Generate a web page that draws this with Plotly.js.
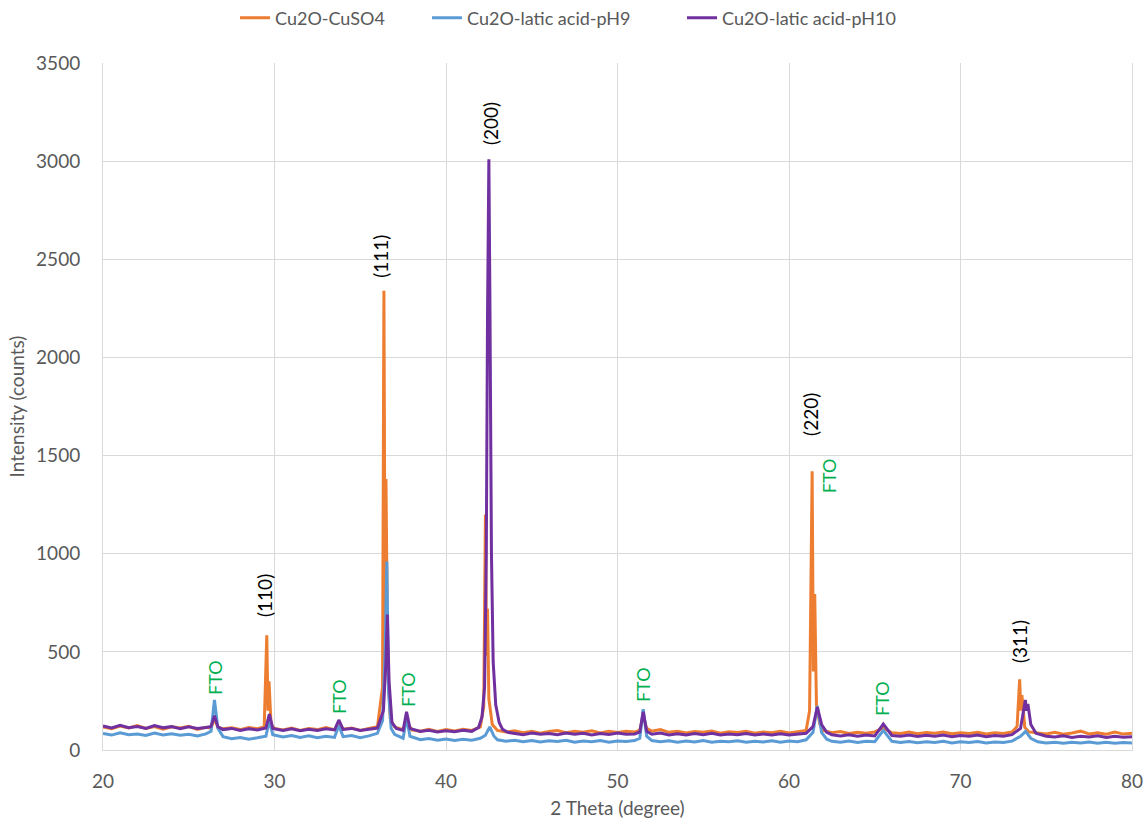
<!DOCTYPE html>
<html>
<head>
<meta charset="utf-8">
<script src="https://cdn.plot.ly/plotly-3.0.1.min.js"></script>
<style>html,body{margin:0;padding:0;background:#fff;}#chart{width:1146px;height:825px;}</style>
</head>
<body>
<div id="chart"></div>
<script>
const seriesNames = ["Cu2O-CuSO4", "Cu2O-latic acid-pH9", "Cu2O-latic acid-pH10"];

const cuso4X = [20, 20.5, 21, 21.5, 22, 22.5, 23, 23.5, 24, 24.5,
 25, 25.5, 26, 26.3, 26.5, 26.7, 27, 27.5, 28, 28.5,
 29, 29.4, 29.55, 29.62, 29.68, 29.8, 30, 30.5, 31, 31.5,
 32, 32.5, 33, 33.5, 33.75, 34, 34.5, 35, 35.5, 36,
 36.3, 36.38, 36.45, 36.5, 36.6, 36.75, 37, 37.5, 37.7, 38,
 38.5, 39, 39.5, 40, 40.5, 41, 41.5, 42, 42.2, 42.3,
 42.36, 42.42, 42.5, 42.7, 43, 43.5, 44, 44.5, 45, 45.5,
 46, 46.5, 47, 47.5, 48, 48.5, 49, 49.5, 50, 50.5,
 51, 51.3, 51.5, 51.7, 52, 52.5, 53, 53.5, 54, 54.5,
 55, 55.5, 56, 56.5, 57, 57.5, 58, 58.5, 59, 59.5,
 60, 60.5, 61, 61.2, 61.35, 61.42, 61.5, 61.6, 61.8, 62,
 62.5, 63, 63.5, 64, 64.5, 65, 65.5, 66, 66.5, 67,
 67.5, 68, 68.5, 69, 69.5, 70, 70.5, 71, 71.5, 72,
 72.5, 73, 73.3, 73.45, 73.52, 73.58, 73.75, 74, 74.5, 75,
 75.5, 76, 76.5, 77, 77.5, 78, 78.5, 79, 79.5, 80];
const cuso4Y = [118, 108, 122, 112, 125, 110, 120, 106, 118, 112,
 121, 105, 116, 112, 160, 115, 108, 113, 104, 115,
 108, 118, 585, 200, 350, 128, 110, 102, 112, 100,
 110, 104, 114, 103, 135, 106, 112, 100, 110, 118,
 320, 2340, 620, 1380, 420, 160, 118, 104, 150, 102,
 96, 106, 95, 104, 97, 106, 100, 118, 220, 1200,
 480, 720, 260, 130, 100, 92, 98, 88, 96, 86,
 94, 99, 88, 95, 90, 98, 87, 96, 89, 95,
 92, 100, 175, 110, 96, 104, 90, 96, 87, 94,
 90, 97, 86, 93, 89, 95, 86, 92, 88, 95,
 87, 93, 100, 200, 1420, 400, 795, 230, 130, 100,
 88, 94, 84, 90, 86, 92, 112, 88, 84, 91,
 83, 89, 85, 92, 83, 88, 84, 90, 82, 88,
 84, 92, 120, 360, 200, 280, 115, 92, 86, 82,
 90, 80, 87, 96, 82, 88, 80, 92, 81, 85];

const ph9X = [20, 20.5, 21, 21.5, 22, 22.5, 23, 23.5, 24, 24.5,
 25, 25.5, 26, 26.3, 26.5, 26.7, 27, 27.5, 28, 28.5,
 29, 29.5, 29.7, 29.9, 30.5, 31, 31.5, 32, 32.5, 33,
 33.5, 33.75, 34, 34.5, 35, 35.5, 36, 36.3, 36.45, 36.55,
 36.65, 36.8, 37, 37.5, 37.7, 37.9, 38.5, 39, 39.5, 40,
 40.5, 41, 41.5, 42, 42.3, 42.55, 42.8, 43, 43.5, 44,
 44.5, 45, 45.5, 46, 46.5, 47, 47.5, 48, 48.5, 49,
 49.5, 50, 50.5, 51, 51.3, 51.5, 51.7, 52, 52.5, 53,
 53.5, 54, 54.5, 55, 55.5, 56, 56.5, 57, 57.5, 58,
 58.5, 59, 59.5, 60, 60.5, 61, 61.4, 61.65, 61.9, 62.2,
 62.5, 63, 63.5, 64, 64.5, 65, 65.5, 66, 66.5, 67,
 67.5, 68, 68.5, 69, 69.5, 70, 70.5, 71, 71.5, 72,
 72.5, 73, 73.5, 73.8, 74.1, 74.5, 75, 75.5, 76, 76.5,
 77, 77.5, 78, 78.5, 79, 79.5, 80];
const ph9Y = [84, 76, 88, 78, 82, 74, 86, 77, 83, 75,
 80, 72, 82, 95, 255, 110, 68, 58, 64, 55,
 62, 70, 150, 78, 66, 74, 64, 72, 62, 70,
 64, 125, 68, 74, 63, 72, 85, 150, 500, 960,
 300, 110, 80, 60, 165, 70, 52, 58, 50, 56,
 49, 55, 50, 60, 75, 118, 70, 52, 45, 50,
 42, 48, 41, 47, 43, 50, 40, 46, 42, 48,
 40, 46, 43, 48, 60, 208, 70, 48, 42, 47,
 40, 46, 41, 48, 40, 45, 42, 47, 39, 45,
 41, 47, 40, 46, 42, 52, 90, 224, 90, 55,
 44, 40, 46, 38, 44, 42, 100, 44, 38, 43,
 37, 42, 38, 44, 36, 42, 38, 43, 36, 41,
 38, 45, 70, 95, 60, 42, 36, 40, 34, 39,
 36, 41, 34, 40, 35, 38, 36];

const ph10X = [20, 20.5, 21, 21.5, 22, 22.5, 23, 23.5, 24, 24.5,
 25, 25.5, 26, 26.3, 26.5, 26.7, 27, 27.5, 28, 28.5,
 29, 29.5, 29.7, 29.9, 30.5, 31, 31.5, 32, 32.5, 33,
 33.5, 33.75, 34, 34.5, 35, 35.5, 36, 36.35, 36.5, 36.58,
 36.68, 36.85, 37.1, 37.5, 37.7, 37.9, 38.5, 39, 39.5, 40,
 40.5, 41, 41.5, 41.9, 42.1, 42.25, 42.35, 42.42, 42.5, 42.56,
 42.65, 42.75, 42.9, 43.1, 43.3, 43.6, 44, 44.5, 45, 45.5,
 46, 46.5, 47, 47.5, 48, 48.5, 49, 49.5, 50, 50.5,
 51, 51.3, 51.5, 51.7, 52, 52.5, 53, 53.5, 54, 54.5,
 55, 55.5, 56, 56.5, 57, 57.5, 58, 58.5, 59, 59.5,
 60, 60.5, 61, 61.4, 61.65, 61.9, 62.2, 62.5, 63, 63.5,
 64, 64.5, 65, 65.5, 66, 66.5, 67, 67.5, 68, 68.5,
 69, 69.5, 70, 70.5, 71, 71.5, 72, 72.5, 73, 73.5,
 73.78, 73.85, 73.93, 74.1, 74.4, 75, 75.5, 76, 76.5, 77,
 77.5, 78, 78.5, 79, 79.5, 80];
const ph10Y = [122, 112, 126, 114, 120, 110, 124, 113, 119, 108,
 118, 110, 115, 120, 175, 118, 104, 110, 100, 108,
 102, 112, 183, 110, 100, 108, 98, 106, 100, 108,
 102, 153, 105, 110, 100, 106, 112, 200, 450, 690,
 350, 140, 110, 100, 195, 110, 94, 100, 92, 98,
 93, 100, 95, 115, 170, 320, 1000, 2200, 3010, 2300,
 1000, 450, 230, 140, 105, 90, 84, 78, 86, 80,
 84, 78, 86, 80, 85, 77, 84, 79, 86, 80,
 82, 92, 195, 95, 80, 86, 77, 83, 76, 84,
 78, 85, 76, 82, 78, 84, 76, 82, 77, 83,
 76, 82, 85, 120, 219, 130, 90, 78, 72, 78,
 70, 76, 72, 132, 74, 70, 76, 69, 75, 70,
 76, 68, 74, 70, 76, 68, 74, 70, 78, 110,
 255, 200, 235, 130, 85, 70, 66, 72, 64, 70,
 66, 72, 64, 70, 65, 68];

// Peak labels (Miller indices) and FTO substrate labels
const hklLabels = ["(110)", "(111)", "(200)", "(220)", "(311)"];
const hklX = [29.45, 36.2, 42.57, 61.28, 73.41];
const hklY = [785, 2517, 3189, 1712, 555];
const ftoX = [26.53, 33.76, 37.78, 51.49, 62.33, 65.42];
const ftoY = [372, 275, 311, 331, 1400, 265];

const colors = ["#ED7D31", "#5B9BD5", "#7030A0"];
const FONT = "Lato, 'Open Sans', sans-serif";
const legendIds = ["legend", "legend2", "legend3"];
const legendLeft = [0.1283, 0.3149, 0.5627];

const traces = [
  {x: cuso4X, y: cuso4Y, name: seriesNames[0]},
  {x: ph9X, y: ph9Y, name: seriesNames[1]},
  {x: ph10X, y: ph10Y, name: seriesNames[2]}
].map((t, i) => Object.assign(t, {
  type: "scatter", mode: "lines", legend: legendIds[i],
  line: {color: colors[i], width: 3}
}));

const annotations = [];
hklLabels.forEach((t, i) => annotations.push({
  x: hklX[i], y: hklY[i], text: t, showarrow: false, textangle: -90,
  font: {family: FONT, size: 19, color: "#000000"}
}));
ftoX.forEach((x, i) => annotations.push({
  x: x, y: ftoY[i], text: "FTO", showarrow: false, textangle: -90,
  font: {family: FONT, size: 18, color: "#00B050"}
}));

const layout = {
  width: 1146, height: 825,
  margin: {l: 103, r: 14, t: 63, b: 75},
  paper_bgcolor: "#ffffff", plot_bgcolor: "#ffffff",
  font: {family: FONT, color: "#595959", size: 19},
  showlegend: true,
  xaxis: {
    range: [20, 80], dtick: 10, tick0: 20,
    showgrid: true, gridcolor: "#d9d9d9", gridwidth: 1,
    showline: true, linecolor: "#d9d9d9", linewidth: 1,
    zeroline: false, ticks: "", ticklabelstandoff: 14,
    tickfont: {family: FONT, size: 19, color: "#595959"},
    title: {text: "2 Theta (degree)", font: {family: FONT, size: 19, color: "#595959"}, standoff: 10}
  },
  yaxis: {
    range: [0, 3500], dtick: 500, tick0: 0,
    showgrid: true, gridcolor: "#d9d9d9", gridwidth: 1,
    showline: true, mirror: true, linecolor: "#d9d9d9", linewidth: 1,
    zeroline: false, ticks: "", ticklabelstandoff: 18,
    tickfont: {family: FONT, size: 19, color: "#595959"},
    title: {text: "Intensity (counts)", font: {family: FONT, size: 19, color: "#595959"}, standoff: 6}
  },
  annotations: annotations
};
legendIds.forEach((id, i) => {
  layout[id] = {
    orientation: "h", x: legendLeft[i], xanchor: "left",
    yref: "container", y: 1 - 18 / 825, yanchor: "middle",
    bgcolor: "rgba(0,0,0,0)",
    font: {family: FONT, size: 18, color: "#595959"}
  };
});

Plotly.newPlot("chart", traces, layout, {displayModeBar: false, responsive: false});
</script>
</body>
</html>
